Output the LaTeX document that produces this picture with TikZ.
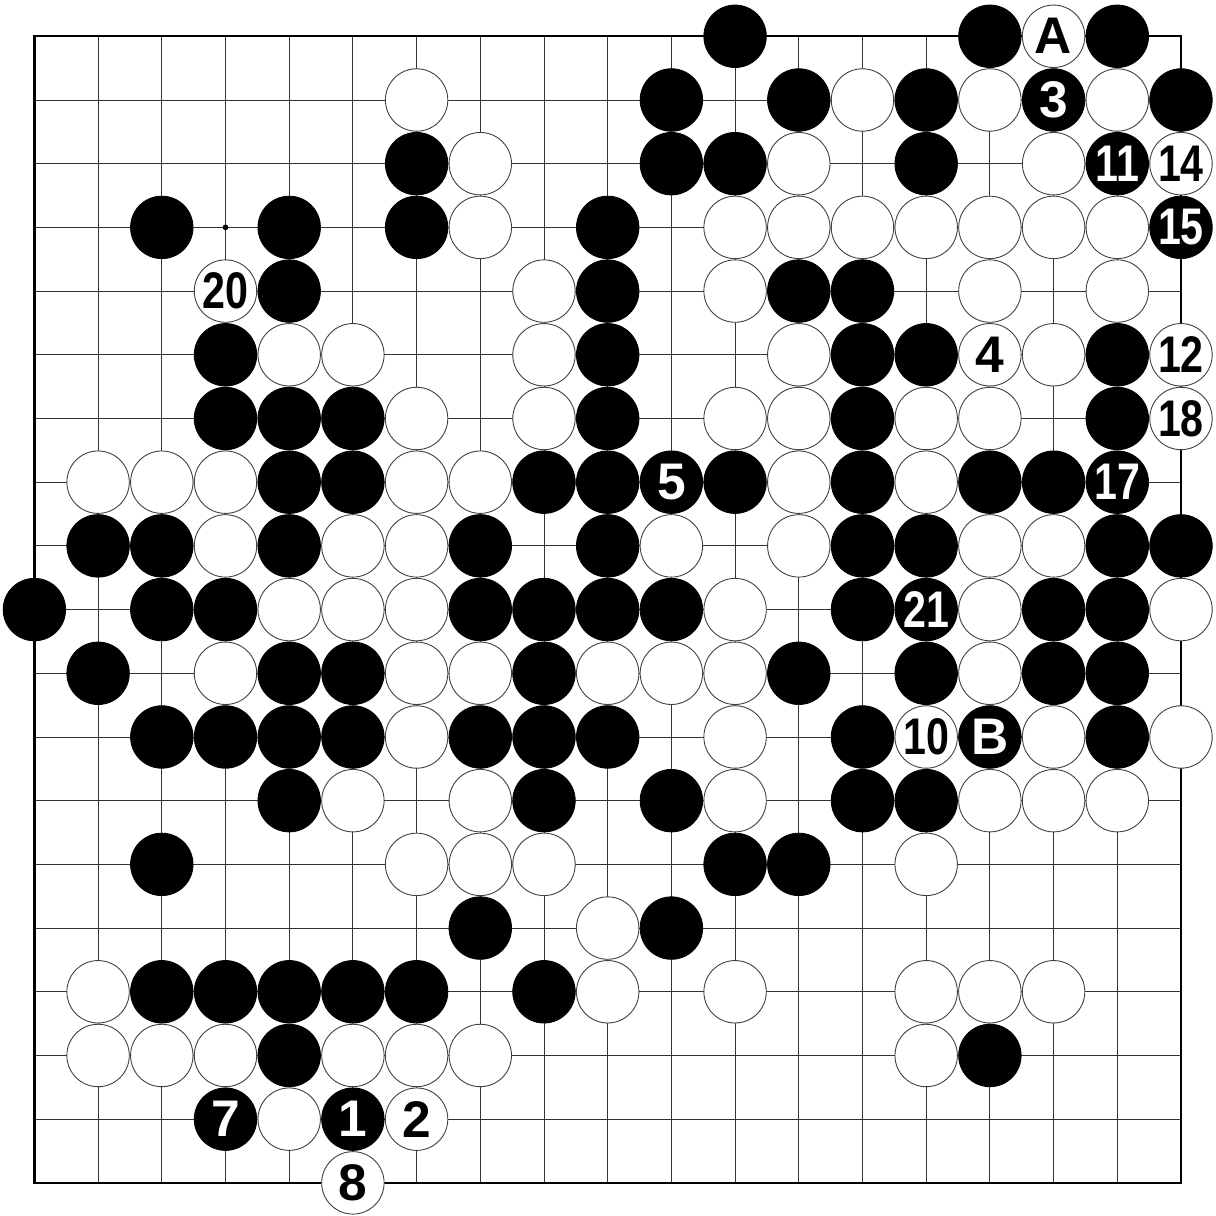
\documentclass[tikz,border=0pt]{standalone}
\usepackage{fontspec}
\setmainfont{Liberation Sans}
\usepackage{graphicx}
\newcommand{\twodig}[1]{\scalebox{0.8}[1]{#1}}

\begin{document}
\begin{tikzpicture}[
    x=1cm, y=1cm,
    gridline/.style={line width=0.4pt, draw=black!80},
    edgeline/.style={line width=1pt, draw=black},
    stone/.style={circle, minimum size=0.98cm, inner sep=0pt, font=\fontsize{23}{23}\selectfont\bfseries},
    bstone/.style={stone, fill=black, draw=black, text=white},
    wstone/.style={stone, fill=white, draw=black!75, line width=0.4pt, text=black},
    hoshi/.style={circle, fill=black, inner sep=0pt, minimum size=0.09cm}
  ]
  \useasboundingbox (-0.54,-0.52) rectangle (18.55,18.57);

  % Board grid
  \foreach \i in {1,...,17} {
    \draw[gridline] (\i,0) -- (\i,18);
    \draw[gridline] (0,\i) -- (18,\i);
  }
  \draw[edgeline] (0,0) rectangle (18,18);
  \node[hoshi] (star) at (3,15) {};

  % Black stones (column/row, rows counted from the top)
  \foreach \c/\r in {11/0, 15/0, 17/0,
      10/1, 12/1, 14/1, 18/1,
      6/2, 10/2, 11/2, 14/2,
      2/3, 4/3, 6/3, 9/3,
      4/4, 9/4, 12/4, 13/4,
      3/5, 9/5, 13/5, 14/5, 17/5,
      3/6, 4/6, 5/6, 9/6, 13/6, 17/6,
      4/7, 5/7, 8/7, 9/7, 11/7, 13/7, 15/7, 16/7,
      1/8, 2/8, 4/8, 7/8, 9/8, 13/8, 14/8, 17/8, 18/8,
      0/9, 2/9, 3/9, 7/9, 8/9, 9/9, 10/9, 13/9, 16/9, 17/9,
      1/10, 4/10, 5/10, 8/10, 12/10, 14/10, 16/10, 17/10,
      2/11, 3/11, 4/11, 5/11, 7/11, 8/11, 9/11, 13/11, 17/11,
      4/12, 8/12, 10/12, 13/12, 14/12,
      2/13, 11/13, 12/13,
      7/14, 10/14,
      2/15, 3/15, 4/15, 5/15, 6/15, 8/15,
      4/16, 15/16}
    \node[bstone] (b-\c-\r) at (\c,{18-\r}) {};

  % White stones
  \foreach \c/\r in {6/1, 13/1, 15/1, 17/1,
      7/2, 12/2, 16/2,
      7/3, 11/3, 12/3, 13/3, 14/3, 15/3, 16/3, 17/3,
      8/4, 11/4, 15/4, 17/4,
      4/5, 5/5, 8/5, 12/5, 16/5,
      6/6, 8/6, 11/6, 12/6, 14/6, 15/6,
      1/7, 2/7, 3/7, 6/7, 7/7, 12/7, 14/7,
      3/8, 5/8, 6/8, 10/8, 12/8, 15/8, 16/8,
      4/9, 5/9, 6/9, 11/9, 15/9, 18/9,
      3/10, 6/10, 7/10, 9/10, 10/10, 11/10, 15/10,
      6/11, 11/11, 16/11, 18/11,
      5/12, 7/12, 11/12, 15/12, 16/12, 17/12,
      6/13, 7/13, 8/13, 14/13,
      9/14,
      1/15, 9/15, 11/15, 14/15, 15/15, 16/15,
      1/16, 2/16, 3/16, 5/16, 6/16, 7/16, 14/16,
      4/17}
    \node[wstone] (w-\c-\r) at (\c,{18-\r}) {};

  % Numbered and lettered black stones
  \node[bstone] (m1) at (5,1) {1};
  \node[bstone] (m3) at (16,17) {3};
  \node[bstone] (m5) at (10,11) {5};
  \node[bstone] (m7) at (3,1) {7};
  \node[bstone] (m11) at (17,16) {\twodig{11}};
  \node[bstone] (m15) at (18,15) {\twodig{15}};
  \node[bstone] (m17) at (17,11) {\twodig{17}};
  \node[bstone] (m21) at (14,9) {\twodig{21}};
  \node[bstone] (mB) at (15,7) {B};

  % Numbered and lettered white stones
  \node[wstone] (m2) at (6,1) {2};
  \node[wstone] (m4) at (15,13) {4};
  \node[wstone] (m8) at (5,0) {8};
  \node[wstone] (m10) at (14,7) {\twodig{10}};
  \node[wstone] (m12) at (18,13) {\twodig{12}};
  \node[wstone] (m14) at (18,16) {\twodig{14}};
  \node[wstone] (m18) at (18,12) {\twodig{18}};
  \node[wstone] (m20) at (3,14) {\twodig{20}};
  \node[wstone] (mA) at (16,18) {A};

\end{tikzpicture}
\end{document}
